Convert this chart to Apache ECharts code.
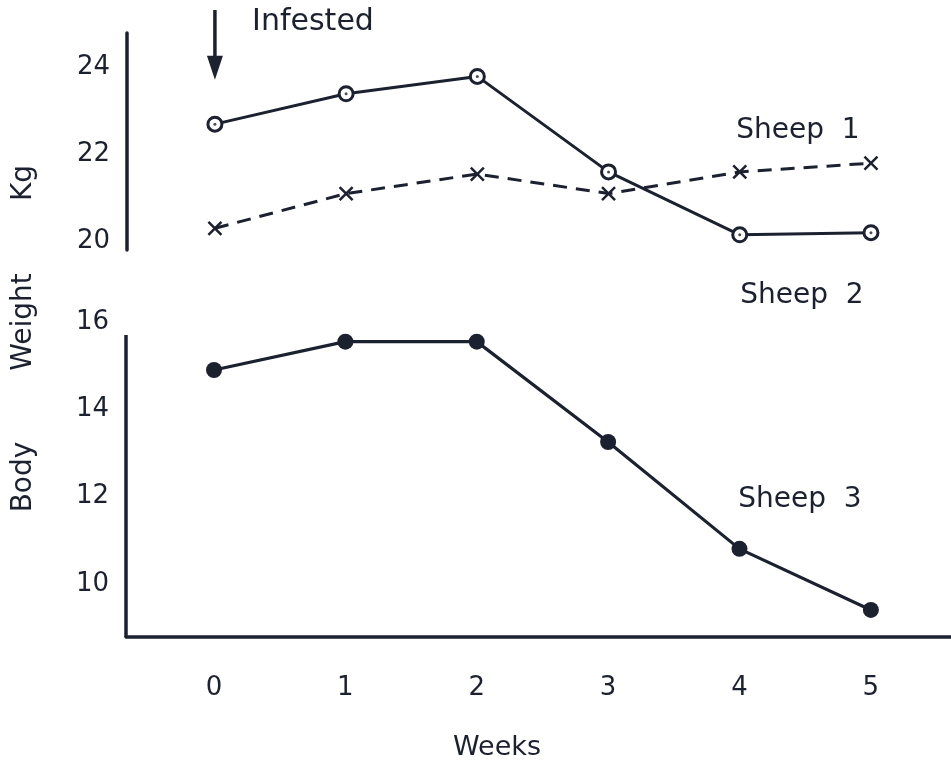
<!DOCTYPE html>
<html>
<head>
<meta charset="utf-8">
<script src="https://cdn.jsdelivr.net/npm/echarts@6/dist/echarts.min.js"></script>
<style>html,body{margin:0;padding:0;background:#fff}#c{width:951px;height:764px}</style>
</head>
<body>
<div id="c"></div>
<script>
// Data
const weeks = [0, 1, 2, 3, 4, 5];
const sheep1 = [22.7, 23.4, 23.8, 21.6, 20.15, 20.2];   // open circles, solid
const sheep2 = [20.3, 21.1, 21.55, 21.1, 21.6, 21.8];   // crosses, dashed
const sheep3 = [14.9, 15.55, 15.55, 13.25, 10.8, 9.4];  // filled circles
const upperTicks = [20, 22, 24];
const lowerTicks = [10, 12, 14, 16];
const weekTicks = [0, 1, 2, 3, 4, 5];

const INK = '#1c2130';
const FONT = 'DejaVu Sans';
const pairs = arr => weeks.map((w, i) => [w, arr[i]]);
const XMIN = -0.67, XMAX = 5.61;

const chart = echarts.init(document.getElementById('c'));
const tickText = { color: INK, fontFamily: FONT, fontSize: 26 };

chart.setOption({
  animation: false,
  backgroundColor: '#fff',
  grid: [
    { left: 127, right: 0, top: 33, height: 217 },
    { left: 126, right: 0, top: 322, height: 315 }
  ],
  xAxis: [
    { gridIndex: 0, type: 'value', min: XMIN, max: XMAX, show: false },
    { gridIndex: 1, type: 'value', min: XMIN, max: XMAX,
      axisLine: { show: true, onZero: false, lineStyle: { color: INK, width: 3.5 } },
      axisTick: { show: false }, splitLine: { show: false },
      axisLabel: { customValues: weekTicks, margin: 38, ...tickText } }
  ],
  yAxis: [
    { gridIndex: 0, type: 'value', min: 19.8, max: 24.8,
      axisLine: { show: true, onZero: false, lineStyle: { color: INK, width: 3.5 } },
      axisTick: { show: false }, splitLine: { show: false },
      axisLabel: { customValues: upperTicks, margin: 17, ...tickText } },
    { gridIndex: 1, type: 'value', min: 8.78, max: 16,
      axisLine: { show: false, onZero: false },
      axisTick: { show: false }, splitLine: { show: false },
      axisLabel: { customValues: lowerTicks, margin: 17, ...tickText } }
  ],
  series: [
    { name: 'Sheep 1', type: 'line', xAxisIndex: 0, yAxisIndex: 0, data: pairs(sheep1),
      symbol: 'circle', symbolSize: 14,
      lineStyle: { color: INK, width: 3 },
      itemStyle: { color: '#fff', borderColor: INK, borderWidth: 3 }, z: 3 },
    { name: 'Sheep 1 centre', type: 'scatter', xAxisIndex: 0, yAxisIndex: 0, data: pairs(sheep1),
      symbol: 'circle', symbolSize: 3, itemStyle: { color: INK }, z: 4, silent: true },
    { name: 'Sheep 2', type: 'line', xAxisIndex: 0, yAxisIndex: 0, data: pairs(sheep2),
      symbol: 'path://M0,0 L10,10 M10,0 L0,10', symbolSize: 13,
      lineStyle: { color: INK, width: 3, type: [14, 9] },
      itemStyle: { color: INK, borderColor: INK, borderWidth: 2.5 } },
    { name: 'Sheep 3', type: 'line', xAxisIndex: 1, yAxisIndex: 1, data: pairs(sheep3),
      symbol: 'circle', symbolSize: 16,
      lineStyle: { color: INK, width: 3.2 },
      itemStyle: { color: INK } }
  ]
});

// Annotations positioned through the axes
const px = (g, x, y) => chart.convertToPixel({ xAxisIndex: g, yAxisIndex: g }, [x, y]);
const a0 = px(1, XMIN, 8.78), a1 = px(1, XMIN, 15.7);
const w0 = px(0, 0, 23.72);
const txt = (x, y, s, size, rot) => ({
  type: 'text', x: x, y: y, rotation: rot || 0,
  style: { text: s, fill: INK, font: size + 'px "' + FONT + '"', align: 'center', verticalAlign: 'middle' }
});
chart.setOption({
  graphic: [
    { type: 'line', shape: { x1: a0[0], y1: a0[1], x2: a1[0], y2: a1[1] },
      style: { stroke: INK, lineWidth: 3.5 } },
    { type: 'line', shape: { x1: w0[0], y1: 10, x2: w0[0], y2: w0[1] - 16 },
      style: { stroke: INK, lineWidth: 3.5 } },
    { type: 'polygon', shape: { points: [[w0[0] - 8, w0[1] - 24], [w0[0] + 8, w0[1] - 24], [w0[0], w0[1]]] },
      style: { fill: INK } },
    txt(313, 22, 'Infested', 30),
    txt(798, 131, 'Sheep  1', 28),
    txt(802, 296, 'Sheep  2', 28),
    txt(800, 500, 'Sheep  3', 28),
    txt(497, 748, 'Weeks', 27),
    txt(24, 183, 'Kg', 28, Math.PI / 2),
    txt(24, 322, 'Weight', 28, Math.PI / 2),
    txt(24, 477, 'Body', 28, Math.PI / 2)
  ]
});
</script>
</body>
</html>
